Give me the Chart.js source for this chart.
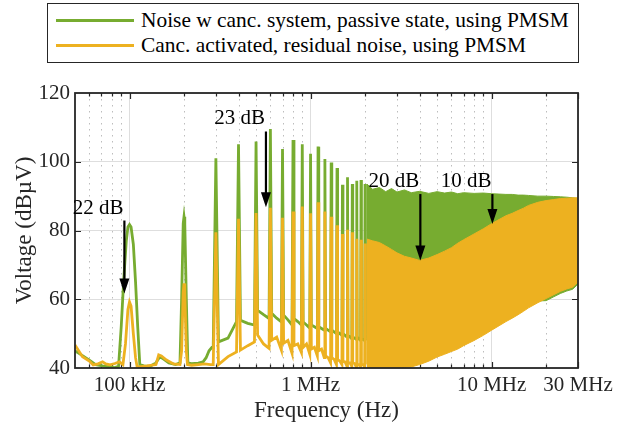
<!DOCTYPE html>
<html>
<head>
<meta charset="utf-8">
<script src="https://cdn.jsdelivr.net/npm/chart.js@4.4.1/dist/chart.umd.min.js"></script>
<style>
  body { margin: 0; background: #fff; }
  #wrap { position: relative; width: 630px; height: 430px; }
  #chart { position: absolute; left: 0; top: 0; }
  #legend {
    position: absolute; left: 47px; top: 3px; width: 532px; height: 60px;
    box-sizing: border-box; border: 1.3px solid #262626; background: #fff;
    font-family: "Liberation Serif", serif; font-size: 21.4px; color: #000;
  }
  .item { position: absolute; left: 0; height: 26px; width: 100%; }
  .swatch { position: absolute; left: 8px; top: 12px; width: 78px; height: 2.5px; }
  .label { position: absolute; left: 93px; top: 0; line-height: 26px; white-space: nowrap; }
</style>
</head>
<body>
<div id="wrap">
  <canvas id="chart" width="630" height="430"></canvas>
  <div id="legend">
    <div class="item" style="top:3px"><div class="swatch"></div><span class="label"></span></div>
    <div class="item" style="top:28px"><div class="swatch"></div><span class="label"></span></div>
  </div>
</div>
<script>
const seriesNames = ["Noise w canc. system, passive state, using PMSM", "Canc. activated, residual noise, using PMSM"];
const seriesColors = ["#77AC30", "#EDB120"];

// below the 3rd harmonic (kHz, dBuV)
const greenLowKHz = [50, 55, 60, 65, 71, 77, 83, 87, 90, 93, 96, 98, 100, 102, 105, 108, 111, 114, 120, 130, 140, 147, 155, 165, 180, 190, 194, 198, 200, 202, 206, 210, 220, 240, 255, 265, 275, 285];
const greenLowDb = [45.0, 43.6, 42.3, 41.0, 40.6, 40.3, 40.1, 40.5, 52, 66, 77, 81, 81.7, 81, 76, 65, 52, 41, 40.6, 40.5, 41.5, 43.3, 42.5, 41.5, 41.0, 41.5, 60, 82, 84, 82, 60, 41.5, 41.3, 41.4, 41.8, 43, 45, 46];
const orangeLowKHz = [50, 55, 60, 63, 67, 71, 74, 78, 83, 88, 92, 95, 98, 100, 102, 105, 108, 110, 115, 125, 140, 145, 150, 160, 175, 190, 194, 198, 200, 202, 206, 209, 220, 240, 260, 280];
const orangeLowDb = [46.7, 43.3, 42.0, 40.9, 41.2, 41.8, 41.2, 40.9, 41.3, 41.8, 41, 47, 57, 59.2, 58, 50, 43, 40.5, 40.4, 40.6, 41, 43.8, 43.5, 42.3, 41.2, 41, 45, 62, 64.6, 62, 45, 41, 40.8, 41, 41.2, 41];

// harmonics 300 kHz .. 2 MHz
const harmonicKHz = [300, 400, 500, 600, 700, 800, 900, 1000, 1100, 1200, 1300, 1400, 1500, 1600, 1700, 1800, 1900, 2000];
const greenPeakDb = [101.0, 105.1, 105.9, 109.5, 103.7, 106.3, 105.1, 102.3, 104.4, 100.8, 99.8, 98.2, 93.3, 95.5, 93.5, 94.5, 94.7, 93.5];
const greenBeforeDb = [46, 53.5, 52.5, 54.4, 53.4, 52.5, 52.5, 51.6, 51.5, 51, 50.5, 50, 49.5, 49, 48.5, 48.3, 48, 48];
const greenAfterDb = [47.6, 53.9, 56.8, 55.9, 55.4, 54.4, 53.4, 52.5, 52, 51.5, 51, 50.5, 50, 49.5, 49, 49, 48.5, 48];
const greenMidDb = [48.7, 53, 55.5, 54.5, 54, 53.5, 52.5, 52, 51.5, 51, 50.5, 50, 49.5, 49, 48.7, 48.5, 48.3, 48];
const orangePeakDb = [79.5, 83.4, 85.1, 86.6, 83.7, 85.5, 87.0, 85.0, 88.2, 85.5, 84.0, 81.5, 79.0, 80.2, 79.5, 77.6, 77.3, 76.2];
const orangeBeforeDb = [41, 44.7, 47.6, 45.7, 45.2, 44.3, 44.5, 44, 43.5, 43, 41.5, 41, 41, 40.5, 40.5, 40.3, 40.3, 40.2];
const orangeAfterDb = [41, 45.2, 49.6, 48.1, 47.2, 46.5, 46, 45.5, 45, 43.5, 43, 42.5, 42, 41.5, 41.5, 41, 41, 41];
const orangeMidDb = [43.3, 46.5, 47, 49, 48, 47, 47, 46, 45.5, 43, 42.5, 42, 41.8, 41.5, 41.3, 41, 41, 41];

// dense part above 2 MHz, envelopes (MHz, dBuV)
const bandMHz = [2.05, 2.2, 2.4, 2.6, 2.8, 3.0, 3.3, 3.6, 4.0, 4.5, 5.0, 5.5, 6.0, 6.5, 7.0, 8.0, 9.0, 10, 11, 12, 13, 14, 15, 16, 18, 20, 22, 24, 26, 28, 30];
const greenUpperDb = [93.5, 92.0, 92.5, 91.3, 92.2, 91.2, 91.8, 91.0, 91.4, 90.8, 91.3, 90.9, 91.2, 90.7, 91.0, 90.8, 90.9, 90.7, 90.6, 90.5, 90.5, 90.3, 90.3, 90.2, 90.0, 90.0, 89.9, 89.8, 89.7, 89.5, 89.3];
const greenLowerDb = [44, 44, 44, 44, 44, 44, 44, 44, 44, 45, 46, 47, 47.5, 48, 49, 50.5, 52, 53.5, 54.5, 55.5, 56.5, 57.5, 58.5, 59, 59.5, 59.6, 60.7, 61.7, 62.4, 62.9, 64.4];
const orangeUpperDb = [77.5, 77.0, 76.5, 75.5, 74.5, 73.5, 72.5, 72.0, 71.3, 72.0, 73.0, 74.0, 75.0, 76.3, 77.3, 79.0, 80.5, 82.0, 83.2, 84.3, 85.0, 85.8, 86.5, 87.3, 88.2, 88.7, 89.0, 89.3, 89.4, 89.5, 89.5];
const orangeLowerDb = [40.0, 40.0, 40.0, 40.0, 40.0, 40.0, 40.2, 40.3, 41.0, 42.0, 43.2, 44.0, 44.8, 45.5, 46.5, 48.0, 49.5, 51.0, 52.3, 53.5, 54.5, 55.5, 56.5, 57.5, 59.0, 60.2, 61.3, 62.3, 63.0, 63.5, 65.0];

const xTickValues = [1e5, 1e6, 1e7, 3e7];
const xTickLabels = ["100 kHz", "1 MHz", "10 MHz", "30 MHz"];
const xMinorValues = [6e4, 7e4, 8e4, 9e4, 2e5, 3e5, 4e5, 5e5, 6e5, 7e5, 8e5, 9e5, 2e6, 3e6, 4e6, 5e6, 6e6, 7e6, 8e6, 9e6, 2e7];

const noteLabels = ["22 dB", "23 dB", "20 dB", "10 dB"];
const noteFreq = [93.7e3, 567e3, 4.04e6, 10.1e6];
const noteFromDb = [82.9, 108.8, 90.6, 90.6];
const noteToDb = [61.7, 86.8, 71.3, 81.9];
const noteTextDb = [86.4, 112.5, 94.3, 94.3];

const serif = "'Liberation Serif', 'Times New Roman', serif";

function spikes(lowKHz, lowDb, peak, before, after, mid) {
  const pts = lowKHz.map((f, i) => ({ x: f * 1e3, y: lowDb[i] }));
  harmonicKHz.forEach((f, i) => {
    pts.push({ x: (f - 10) * 1e3, y: before[i] });
    pts.push({ x: f * 1e3, y: peak[i] });
    pts.push({ x: (f + 10) * 1e3, y: after[i] });
    if (i < harmonicKHz.length - 1) pts.push({ x: (f + 50) * 1e3, y: mid[i] });
  });
  return pts;
}
const band = vals => bandMHz.map((f, i) => ({ x: f * 1e6, y: vals[i] }));

const line = (data, color, extra) => Object.assign({
  data: data, borderColor: color, backgroundColor: color, borderWidth: 2.8,
  pointRadius: 0, tension: 0, fill: false,
}, extra || {});

const labelEls = document.querySelectorAll(".label");
const swatchEls = document.querySelectorAll(".swatch");
for (let i = 0; i < seriesNames.length; i++) {
  labelEls[i].innerHTML = seriesNames[i];
  swatchEls[i].style.backgroundColor = seriesColors[i];
}

const decorations = {
  id: "decorations",
  beforeDatasetsDraw(chart) {
    const { ctx, chartArea: a, scales: { x, y } } = chart;
    ctx.save();
    ctx.strokeStyle = "#bdbdbd";
    ctx.lineWidth = 1;
    ctx.setLineDash([1.5, 4.5]);
    xMinorValues.forEach(v => {
      const px = Math.round(x.getPixelForValue(v)) + 0.5;
      ctx.beginPath(); ctx.moveTo(px, a.top); ctx.lineTo(px, a.bottom); ctx.stroke();
    });
    ctx.setLineDash([]);
    ctx.strokeStyle = "#262626";
    ctx.lineWidth = 1.2;
    const tick = (v, len) => {
      const px = Math.round(x.getPixelForValue(v)) + 0.5;
      ctx.beginPath();
      ctx.moveTo(px, a.top); ctx.lineTo(px, a.top + len);
      ctx.moveTo(px, a.bottom); ctx.lineTo(px, a.bottom - len);
      ctx.stroke();
    };
    xMinorValues.forEach(v => tick(v, 3.5));
    xTickValues.forEach(v => tick(v, 6));
    [60, 80, 100].forEach(v => {
      const py = Math.round(y.getPixelForValue(v)) + 0.5;
      ctx.beginPath();
      ctx.moveTo(a.left, py); ctx.lineTo(a.left + 6, py);
      ctx.moveTo(a.right, py); ctx.lineTo(a.right - 6, py);
      ctx.stroke();
    });
    ctx.restore();
  },
  afterDatasetsDraw(chart) {
    const { ctx, chartArea: a, scales: { x, y } } = chart;
    ctx.save();
    ctx.strokeStyle = "#262626";
    ctx.lineWidth = 1.8;
    ctx.strokeRect(a.left, a.top, a.right - a.left, a.bottom - a.top);

    ctx.fillStyle = "#000";
    ctx.strokeStyle = "#000";
    ctx.font = "21px " + serif;
    ctx.textAlign = "right";
    ctx.textBaseline = "middle";
    noteLabels.forEach((t, i) => {
      const px = x.getPixelForValue(noteFreq[i]);
      const y0 = y.getPixelForValue(noteFromDb[i]);
      const y1 = y.getPixelForValue(noteToDb[i]);
      ctx.fillText(t, px - 1, y.getPixelForValue(noteTextDb[i]));
      ctx.lineWidth = 2.2;
      ctx.beginPath(); ctx.moveTo(px, y0); ctx.lineTo(px, y1 - 12); ctx.stroke();
      ctx.beginPath();
      ctx.moveTo(px - 5, y1 - 15); ctx.lineTo(px + 5, y1 - 15); ctx.lineTo(px, y1);
      ctx.closePath(); ctx.fill();
    });
    ctx.restore();
  }
};

new Chart("chart", {
  type: "line",
  data: {
    datasets: [
      line(spikes(orangeLowKHz, orangeLowDb, orangePeakDb, orangeBeforeDb, orangeAfterDb, orangeMidDb), seriesColors[1]),
      line(band(orangeUpperDb), seriesColors[1], { borderWidth: 1, fill: "+1" }),
      line(band(orangeLowerDb), seriesColors[1], { borderWidth: 1 }),
      line(spikes(greenLowKHz, greenLowDb, greenPeakDb, greenBeforeDb, greenAfterDb, greenMidDb), seriesColors[0]),
      line(band(greenUpperDb), seriesColors[0], { borderWidth: 1, fill: "+1" }),
      line(band(greenLowerDb), seriesColors[0], { borderWidth: 1 }),
    ],
  },
  options: {
    responsive: false,
    animation: false,
    layout: { padding: { top: 93, right: 52, bottom: 0, left: 0 } },
    plugins: { legend: { display: false }, tooltip: { enabled: false } },
    scales: {
      x: {
        type: "logarithmic",
        min: 5e4,
        max: 3e7,
        afterBuildTicks: s => { s.ticks = xTickValues.map(v => ({ value: v })); },
        afterFit: s => { s.height = 62; },
        ticks: {
          autoSkip: false, maxRotation: 0, padding: 5, color: "#262626",
          font: { family: serif, size: 21 },
          callback: v => xTickLabels[xTickValues.indexOf(v)],
        },
        grid: { color: "#dedede", lineWidth: 1, drawTicks: false },
        border: { display: false },
        title: {
          display: true, text: "Frequency (Hz)", color: "#262626",
          font: { family: serif, size: 23 }, padding: { bottom: 5 },
        },
      },
      y: {
        min: 40,
        max: 120,
        afterFit: s => { s.width = 75; },
        ticks: { stepSize: 20, padding: 5, color: "#262626", font: { family: serif, size: 21 } },
        grid: { color: "#dedede", lineWidth: 1, drawTicks: false },
        border: { display: false },
        title: {
          display: true, text: "Voltage (dBµV)", color: "#262626",
          font: { family: serif, size: 23 }, padding: { top: 11 },
        },
      },
    },
  },
  plugins: [decorations],
});
</script>
</body>
</html>
